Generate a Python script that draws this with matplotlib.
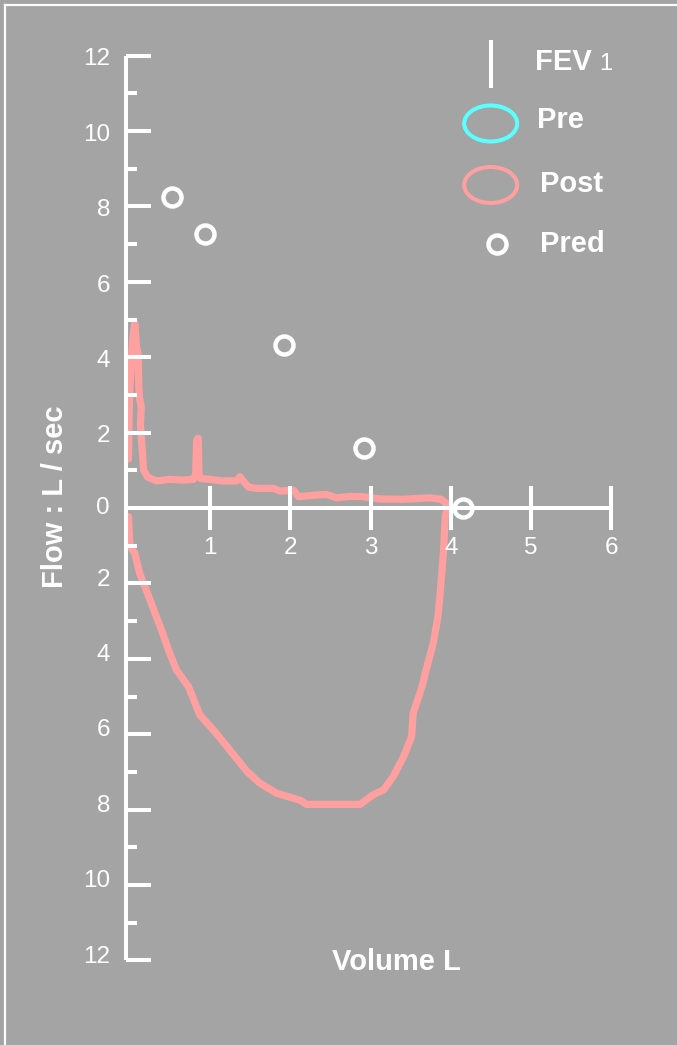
import numpy as np
import matplotlib.pyplot as plt
from matplotlib.patches import Ellipse
from matplotlib.lines import Line2D

# flow-volume loop (post bronchodilator), volume in L, flow in L/sec
post_vol = [-0.02, -0.01, 0.0, 0.03, 0.06, 0.08, 0.1, 0.11, 0.12, 0.14, 0.13, 0.15, 0.17,
            0.22, 0.33, 0.5, 0.65, 0.79, 0.82, 0.83, 0.85, 0.86, 0.88, 1.0, 1.15, 1.33,
            1.37, 1.41, 1.48, 1.6, 1.79, 1.87, 2.04, 2.1, 2.3, 2.45, 2.58, 2.74, 2.9,
            3.12, 3.4, 3.74, 3.88, 3.93, 3.96,
            3.93, 3.91, 3.87, 3.84, 3.78, 3.68, 3.64, 3.6, 3.53, 3.51, 3.41, 3.28, 3.16,
            3.03, 2.87, 2.2, 2.12, 1.83, 1.62, 1.46, 1.21, 1.04, 0.87, 0.73, 0.58, 0.48,
            0.4, 0.25, 0.12, 0.06, 0.0, -0.02]
post_flow = [1.3, 2.6, 3.2, 4.4, 4.9, 4.3, 4.1, 3.2, 2.9, 2.7, 2.2, 1.6, 1.0,
             0.82, 0.72, 0.76, 0.74, 0.76, 0.9, 1.8, 1.85, 0.9, 0.78, 0.76, 0.72, 0.72,
             0.83, 0.72, 0.55, 0.52, 0.52, 0.45, 0.47, 0.3, 0.34, 0.36, 0.27, 0.31, 0.3,
             0.24, 0.23, 0.27, 0.23, 0.15, 0.0,
             -0.23, -1.11, -2.17, -2.88, -3.59, -4.39, -4.74, -5.0, -5.45, -6.07, -6.6, -7.13, -7.48,
             -7.61, -7.86, -7.86, -7.75, -7.57, -7.3, -6.99, -6.33, -5.89, -5.49, -4.74, -4.3, -3.77,
             -3.28, -2.44, -1.73, -1.2, -1.03, -0.23]

# predicted values
pred_vol = [0.52, 0.94, 1.92, 2.92, 4.15]
pred_flow = [8.25, 7.28, 4.32, 1.6, 0.0]

x_ticks = [1, 2, 3, 4, 5, 6]
y_major = [-12, -10, -8, -6, -4, -2, 0, 2, 4, 6, 8, 10, 12]
y_minor = [-11, -9, -7, -5, -3, -1, 1, 3, 5, 7, 9, 11]

bg = '#a4a4a4'
pink = '#ffa0a0'
cyan = '#5cffff'
W, H = 677, 1045

plt.rcParams['font.family'] = ['Liberation Sans', 'DejaVu Sans']

fig = plt.figure(figsize=(W / 100, H / 100), dpi=100)
fig.patch.set_facecolor(bg)
ax = fig.add_axes([0, 0, 1, 1])
ax.set_facecolor(bg)
ax.set_xlim(-1.621, 6.820)
ax.set_ylim(-14.244, 13.475)
ax.axis('off')

def px(x, y):
    return x / W, 1 - y / H

# outer frame
fig.add_artist(Line2D([5 / W, 1], [1 - 5 / H, 1 - 5 / H], color='white', lw=1.6))
fig.add_artist(Line2D([5 / W, 5 / W], [0, 1 - 5 / H], color='white', lw=1.6))

# loop
ax.plot(post_vol, post_flow, color=pink, lw=5.2, solid_joinstyle='round',
        solid_capstyle='round', zorder=2)

# y axis with bracket ends
yax = -0.056
lw_ax = 2.9
ax.plot([yax, yax], [-12, 12], color='white', lw=lw_ax, zorder=3, solid_capstyle='butt')
for v in y_major:
    ax.plot([yax, 0.26], [v, v], color='white', lw=lw_ax, zorder=3, solid_capstyle='butt')
    ax.text(-0.25, v - 0.1 * np.sign(v), str(abs(v)), color='white', fontsize=17.5,
            ha='right', va='center')
for v in y_minor:
    ax.plot([yax, 0.09], [v, v], color='white', lw=lw_ax, zorder=3, solid_capstyle='butt')

# x axis
ax.plot([0.06, 6.0], [0, 0], color='white', lw=lw_ax, zorder=3, solid_capstyle='butt')
for v in x_ticks:
    ax.plot([v, v], [-0.58, 0.58], color='white', lw=lw_ax, zorder=3, solid_capstyle='butt')
    ax.text(v, -1.06, str(v), color='white', fontsize=17.5, ha='center', va='center')

# predicted points
ax.plot(pred_vol, pred_flow, 'o', ms=13, mfc='none', mec='white', mew=3.2, zorder=4)

ax.text(-0.94, 0.3, 'Flow : L / sec', rotation=90, color='white', fontsize=21,
        fontweight='bold', ha='center', va='center')
ax.text(3.32, -12.05, 'Volume L', color='white', fontsize=21, fontweight='bold',
        ha='center', va='center')

# legend
fig.add_artist(Line2D([490.7 / W] * 2, [1 - 42 / H, 1 - 86 / H], color='white', lw=2.9))
fig.text(*px(535, 70), 'FEV', color='white', fontsize=21, fontweight='bold')
fig.text(*px(599, 70), '1', color='white', fontsize=17)
for cy, col in [(123.5, cyan), (185, pink)]:
    ax.add_patch(Ellipse(px(490.7, cy), 53 / W, 36 / H, transform=fig.transFigure,
                         fill=False, ec=col, lw=2.9))
fig.text(*px(537, 128), 'Pre', color='white', fontsize=21, fontweight='bold')
fig.text(*px(540, 192), 'Post', color='white', fontsize=21, fontweight='bold')
fig.add_artist(Line2D([497.3 / W], [1 - 244.3 / H], marker='o', ms=13, mfc='none',
                      mec='white', mew=3.2))
fig.text(*px(540, 252), 'Pred', color='white', fontsize=21, fontweight='bold')

fig.savefig('out.png', dpi=100, facecolor=bg)
